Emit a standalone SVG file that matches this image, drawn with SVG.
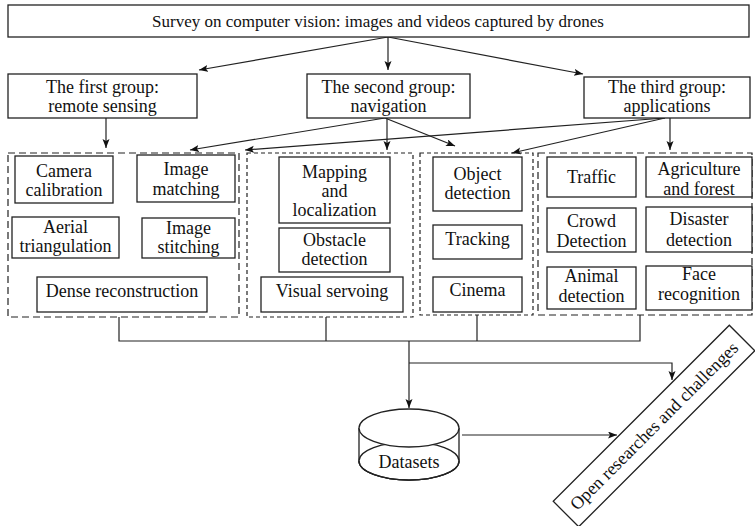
<svg xmlns="http://www.w3.org/2000/svg" width="755" height="526" viewBox="0 0 755 526">
<style>
.box{fill:#fff;stroke:#222;stroke-width:1.3}
.grp{fill:none;stroke:#222;stroke-width:1.2}
.d1{stroke-dasharray:7,4}
.d2{stroke-dasharray:4,3}
.t{font-family:"Liberation Serif","Times New Roman",serif;font-size:18px;fill:#111;text-anchor:middle}
.ln{fill:none;stroke:#222;stroke-width:1.2}
.ar{fill:none;stroke:#222;stroke-width:1.2;marker-end:url(#ah)}
</style>
<defs>
<marker id="ah" markerUnits="userSpaceOnUse" markerWidth="10" markerHeight="8" refX="9" refY="3.5" orient="auto">
<path d="M0,0 L9,3.5 L0,7 L2,3.5 z" fill="#111"/>
</marker>
</defs>
<rect width="755" height="526" fill="#fff"/>

<g id="connectors">
<path class="ar" d="M388,37 L199,70"/>
<path class="ar" d="M388,37 L388,70"/>
<path class="ar" d="M388,37 L583,74"/>
<path class="ar" d="M106,118 L106,148"/>
<path class="ar" d="M385,118 L190,150"/>
<path class="ar" d="M387,118 L387,150"/>
<path class="ar" d="M385,118 L455,146"/>
<path class="ar" d="M665,118 L245,150"/>
<path class="ar" d="M665,118 L512,153"/>
<path class="ar" d="M670,118 L670,150"/>
<path class="ln" d="M119,317 V341 H640 V315 M326,317 V341 M477,315 V341"/>
<path class="ar" d="M409,341 V408"/>
<path class="ar" d="M409,363 H672 V380"/>
<path class="ar" d="M462,435 H617"/>
</g>

<g id="title">
<rect class="box" x="8" y="5" width="741" height="32"/>
<text class="t" x="378" y="27" style="font-size:17px">Survey on computer vision: images and videos captured by drones</text>
</g>

<g id="group1">
<rect class="box" x="8" y="74" width="189" height="44"/>
<text class="t" x="102.5" y="93">The first group:</text>
<text class="t" x="102.5" y="112">remote sensing</text>
</g>
<g id="group2">
<rect class="box" x="307" y="74" width="163" height="44"/>
<text class="t" x="388.5" y="93">The second group:</text>
<text class="t" x="388.5" y="112">navigation</text>
</g>
<g id="group3">
<rect class="box" x="584" y="77" width="166" height="41"/>
<text class="t" x="667" y="93">The third group:</text>
<text class="t" x="667" y="112">applications</text>
</g>

<g id="area1">
<rect class="grp d1" x="8" y="153" width="231" height="164"/>
</g>
<g id="area2">
<rect class="grp d2" x="247" y="153" width="166" height="164"/>
</g>
<g id="area3">
<rect class="grp d2" x="420" y="153" width="113" height="162"/>
</g>
<g id="area4">
<rect class="grp d1" x="538" y="153" width="214" height="162"/>
</g>

<g id="camera-calibration">
<rect class="box" x="15" y="156" width="98" height="47"/>
<text class="t" x="64" y="177">Camera</text>
<text class="t" x="64" y="196">calibration</text>
</g>
<g id="image-matching">
<rect class="box" x="137" y="155" width="98" height="47"/>
<text class="t" x="186" y="175">Image</text>
<text class="t" x="186" y="195">matching</text>
</g>
<g id="aerial-triangulation">
<rect class="box" x="12" y="217" width="107" height="41"/>
<text class="t" x="65.5" y="233">Aerial</text>
<text class="t" x="65.5" y="252">triangulation</text>
</g>
<g id="image-stitching">
<rect class="box" x="142" y="218" width="93" height="40"/>
<text class="t" x="188.5" y="234">Image</text>
<text class="t" x="188.5" y="253">stitching</text>
</g>
<g id="dense-reconstruction">
<rect class="box" x="37" y="277" width="170" height="35"/>
<text class="t" x="122" y="297">Dense reconstruction</text>
</g>

<g id="mapping-localization">
<rect class="box" x="279" y="157" width="111" height="66"/>
<text class="t" x="334.5" y="178">Mapping</text>
<text class="t" x="334.5" y="197">and</text>
<text class="t" x="334.5" y="216">localization</text>
</g>
<g id="obstacle-detection">
<rect class="box" x="279" y="228" width="111" height="44"/>
<text class="t" x="334.5" y="246">Obstacle</text>
<text class="t" x="334.5" y="265">detection</text>
</g>
<g id="visual-servoing">
<rect class="box" x="261" y="277" width="142" height="35"/>
<text class="t" x="332" y="297">Visual servoing</text>
</g>

<g id="object-detection">
<rect class="box" x="433" y="157" width="89" height="54"/>
<text class="t" x="477.5" y="180">Object</text>
<text class="t" x="477.5" y="199">detection</text>
</g>
<g id="tracking">
<rect class="box" x="433" y="225" width="89" height="34"/>
<text class="t" x="477.5" y="245">Tracking</text>
</g>
<g id="cinema">
<rect class="box" x="433" y="277" width="89" height="35"/>
<text class="t" x="477.5" y="296">Cinema</text>
</g>

<g id="traffic">
<rect class="box" x="547" y="157" width="89" height="40"/>
<text class="t" x="591.5" y="183">Traffic</text>
</g>
<g id="agriculture-forest">
<rect class="box" x="646" y="157" width="106" height="40"/>
<text class="t" x="699" y="175">Agriculture</text>
<text class="t" x="699" y="195">and forest</text>
</g>
<g id="crowd-detection">
<rect class="box" x="547" y="208" width="89" height="44"/>
<text class="t" x="591.5" y="227">Crowd</text>
<text class="t" x="591.5" y="247">Detection</text>
</g>
<g id="disaster-detection">
<rect class="box" x="646" y="207" width="106" height="45"/>
<text class="t" x="699" y="225">Disaster</text>
<text class="t" x="699" y="246">detection</text>
</g>
<g id="animal-detection">
<rect class="box" x="547" y="267" width="89" height="42"/>
<text class="t" x="591.5" y="282">Animal</text>
<text class="t" x="591.5" y="302">detection</text>
</g>
<g id="face-recognition">
<rect class="box" x="646" y="266" width="106" height="44"/>
<text class="t" x="699" y="280">Face</text>
<text class="t" x="699" y="300">recognition</text>
</g>

<g id="datasets">
<path class="box" d="M359,428 V461 A50,19 0 0 0 459,461 V428"/>
<ellipse class="box" cx="409" cy="461" rx="50" ry="19"/>
<ellipse class="box" cx="409" cy="428" rx="50" ry="19"/>
<path class="ln" d="M359,461 A50,19 0 0 0 459,461"/>
<text class="t" x="409" y="468">Datasets</text>
</g>

<g id="open-researches" transform="translate(654,426) rotate(-45)">
<rect class="box" x="-124.5" y="-18" width="249" height="36"/>
<text class="t" x="0" y="6">Open researches and challenges</text>
</g>
</svg>
